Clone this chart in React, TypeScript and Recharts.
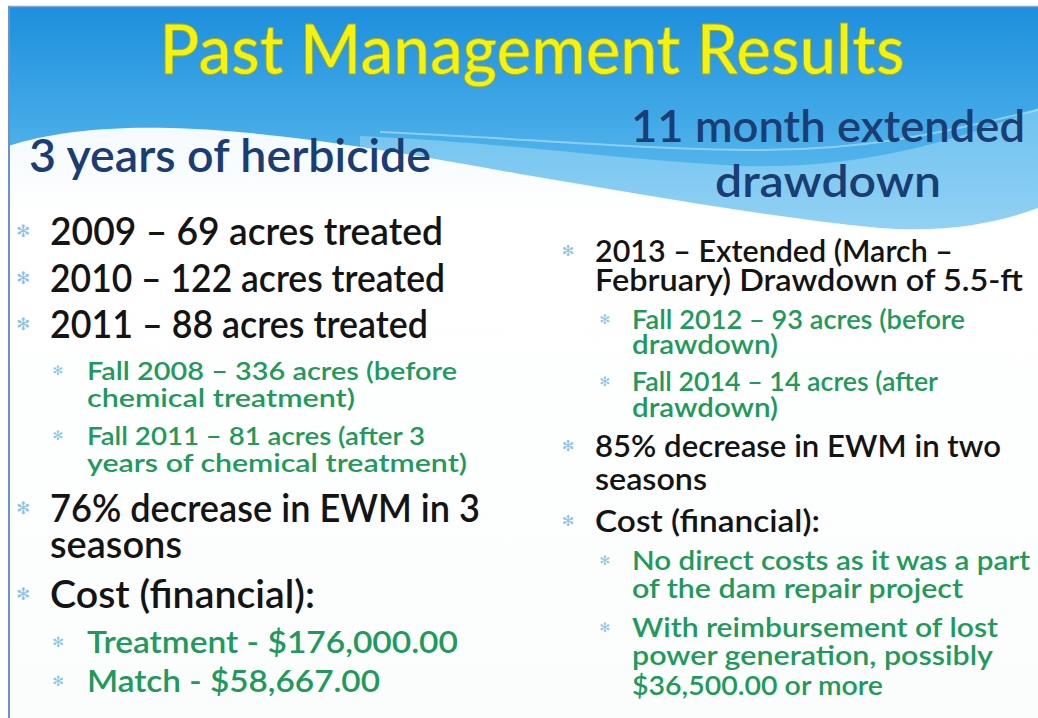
import React from 'react';
import { ComposedChart, Customized } from 'recharts';

const W = 1038;
const H = 718;

// ---- slide content ----
const TITLE = 'Past Management Results';
const LEFT_HEADING = ['3 years of herbicide'];
const RIGHT_HEADING = ['11 month extended', 'drawdown'];

const treatYears = ['2009', '2010', '2011'];
const treatAcres = [69, 122, 88];
const herbicideSurvey = [
  ['Fall 2008 – 336 acres (before', 'chemical treatment)'],
  ['Fall 2011 – 81 acres (after 3', 'years of chemical treatment)'],
];
const herbicideDecrease = ['76% decrease in EWM in 3', 'seasons'];
const costLabel = 'Cost (financial):';
const herbicideCosts = ['Treatment - $176,000.00', 'Match - $58,667.00'];

const drawdownIntro = ['2013 – Extended (March –', 'February) Drawdown of 5.5-ft'];
const drawdownSurvey = [
  ['Fall 2012 – 93 acres (before', 'drawdown)'],
  ['Fall 2014 – 14 acres (after', 'drawdown)'],
];
const drawdownDecrease = ['85% decrease in EWM in two', 'seasons'];
const drawdownCosts = [
  ['No direct costs as it was a part', 'of the dam repair project'],
  ['With reimbursement of lost', 'power generation, possibly', '$36,500.00 or more'],
];

type Item = { lines: string[]; level: number; green: boolean };

const group = (items: string[][], level: number, green: boolean): Item[] =>
  items.map((lines) => ({ lines, level, green }));

const leftItems: Item[] = [
  ...group(treatYears.map((y, i) => [`${y} – ${treatAcres[i]} acres treated`]), 1, false),
  ...group(herbicideSurvey, 2, true),
  ...group([herbicideDecrease], 1, false),
  ...group([[costLabel]], 1, false),
  ...group(herbicideCosts.map((c) => [c]), 3, true),
];

const rightItems: Item[] = [
  ...group([drawdownIntro], 1, false),
  ...group(drawdownSurvey, 2, true),
  ...group([drawdownDecrease], 1, false),
  ...group([[costLabel]], 1, false),
  ...group(drawdownCosts, 2, true),
];

// ---- layout (baselines / widths measured off the slide, one per line) ----
const leftBase = [245, 292, 338, 380, 407, 445, 472, 522, 558, 608, 653, 692];
const leftWidth = [393, 395, 378, 370, 268, 338, 380, 430, 132, 265, 371, 293];
const rightBase = [262, 291, 329, 354, 391, 417, 457, 490, 532, 570, 598, 637, 665, 695];
const rightWidth = [358, 428, 333, 146, 306, 146, 406, 112, 225, 398, 331, 366, 361, 251];

const FONT = "Lato, 'Open Sans', sans-serif";
const BLACK = '#141414';
const GREEN = '#1f9a5c';
const NAVY = '#1a3d72';
const STAR = '#8cc4e6';

type Cfg = Record<number, { x: number; bx: number; size: number; star: number }>;

const leftCfg: Cfg = {
  1: { x: 50, bx: 23, size: 39, star: 17 },
  2: { x: 87, bx: 58, size: 25.5, star: 13 },
  3: { x: 87, bx: 58, size: 30, star: 14 },
};
const rightCfg: Cfg = {
  1: { x: 595, bx: 568, size: 31, star: 15 },
  2: { x: 632, bx: 605, size: 26, star: 13 },
};

const renderColumn = (items: Item[], base: number[], widths: number[], cfg: Cfg, key: string) => {
  let k = 0;
  return items.map((it, i) => {
    const c = cfg[it.level];
    const first = k;
    k += it.lines.length;
    return (
      <g key={`${key}-${i}`}>
        <text
          x={c.bx}
          y={base[first] - c.size * 0.2}
          fontSize={c.star}
          fill={STAR}
          textAnchor="middle"
          fontFamily="'DejaVu Sans', sans-serif"
        >
          ✻
        </text>
        <text fontSize={c.size} fontWeight={600} fill={it.green ? GREEN : BLACK} fontFamily={FONT}>
          {it.lines.map((line, j) => (
            <tspan
              key={j}
              x={c.x}
              y={base[first + j]}
              textLength={widths[first + j]}
              lengthAdjust="spacingAndGlyphs"
            >
              {line}
            </tspan>
          ))}
        </text>
      </g>
    );
  });
};

const SlideLayer = () => (
  <g>
    <defs>
      <linearGradient id="sky" x1="0" y1="0" x2="0" y2="1">
        <stop offset="0%" stopColor="#1d8fdd" />
        <stop offset="100%" stopColor="#55b6ec" />
      </linearGradient>
      <linearGradient id="band" x1="0" y1="0" x2="0" y2="1">
        <stop offset="0%" stopColor="#6ec2ef" />
        <stop offset="100%" stopColor="#a6daf6" />
      </linearGradient>
      <linearGradient id="paper" x1="0" y1="0" x2="0" y2="1">
        <stop offset="0%" stopColor="#f4fafd" />
        <stop offset="15%" stopColor="#ffffff" />
        <stop offset="100%" stopColor="#fbfdfd" />
      </linearGradient>
    </defs>
    <rect x={0} y={0} width={W} height={H} fill="#ffffff" />
    <rect x={8} y={6} width={W - 8} height={170} fill="url(#sky)" />
    <rect x={8} y={170} width={W - 8} height={100} fill="#55b6ec" />
    <path
      d="M 360 136 C 500 142, 620 160, 740 166 C 860 170, 960 140, 1038 108 L 1038 300 L 360 300 Z"
      fill="url(#band)"
    />
    <path
      d="M 380 132 C 520 138, 640 150, 760 150 C 880 150, 960 128, 1038 110"
      fill="none"
      stroke="#b8e4fa"
      strokeOpacity={0.6}
      strokeWidth={2}
    />
    <path
      d="M 8 146 C 50 132, 110 126, 170 128 C 260 130, 380 148, 520 174 C 640 194, 760 216, 880 228 C 950 233, 1000 222, 1038 208 L 1038 718 L 8 718 Z"
      fill="url(#paper)"
    />
    <line x1={8} y1={6.5} x2={W} y2={6.5} stroke="#8aa2cf" strokeWidth={1.5} />
    <line x1={9} y1={6} x2={9} y2={H} stroke="#6f8fcf" strokeWidth={2} />

    <text
      x={532}
      y={74}
      fontSize={70}
      fontWeight={600}
      fill="#f4f20e"
      stroke="#a3ad1c"
      strokeWidth={0.8}
      textAnchor="middle"
      fontFamily={FONT}
      textLength={745}
      lengthAdjust="spacingAndGlyphs"
    >
      {TITLE}
    </text>

    <text
      x={29}
      y={172}
      fontSize={46}
      fontWeight={600}
      fill={NAVY}
      fontFamily={FONT}
      textLength={402}
      lengthAdjust="spacingAndGlyphs"
    >
      {LEFT_HEADING[0]}
    </text>
    <text fontSize={44} fontWeight={600} fill={NAVY} fontFamily={FONT}>
      <tspan x={631} y={142} textLength={394} lengthAdjust="spacingAndGlyphs">
        {RIGHT_HEADING[0]}
      </tspan>
      <tspan x={715} y={197} textLength={226} lengthAdjust="spacingAndGlyphs">
        {RIGHT_HEADING[1]}
      </tspan>
    </text>

    {renderColumn(leftItems, leftBase, leftWidth, leftCfg, 'l')}
    {renderColumn(rightItems, rightBase, rightWidth, rightCfg, 'r')}
  </g>
);

const chartData = treatYears.map((year, i) => ({ year, acres: treatAcres[i] }));

export default function App() {
  return (
    <div style={{ position: 'absolute', left: 0, top: 0, width: W, height: H, background: '#fff' }}>
      <ComposedChart width={W} height={H} data={chartData} margin={{ top: 0, right: 0, bottom: 0, left: 0 }}>
        <Customized component={SlideLayer} />
      </ComposedChart>
    </div>
  );
}
